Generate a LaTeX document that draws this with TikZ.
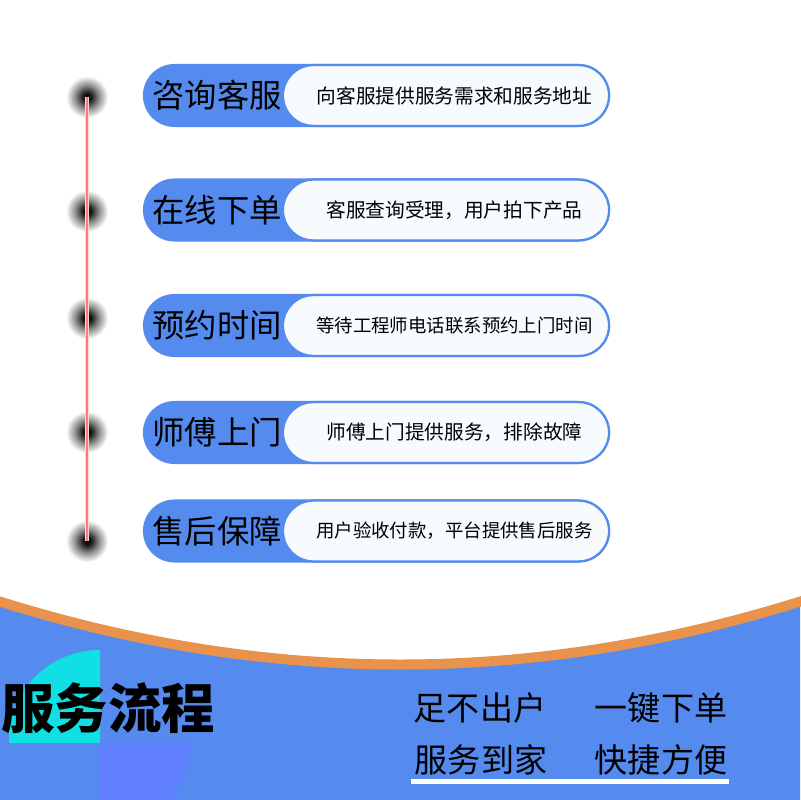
\documentclass[tikz,border=0pt]{standalone}
\usepackage{fontspec}
\setmainfont{Noto Sans CJK SC}
\definecolor{pillblue}{HTML}{558BEE}
\definecolor{pillwhite}{HTML}{F7FBFE}
\definecolor{arcorange}{HTML}{E8924C}
\definecolor{bandcyan}{HTML}{10E0E4}
\definecolor{bandviolet}{HTML}{6180FF}
\definecolor{linered}{HTML}{FF7878}
\pgfdeclareradialshading{fuzz}{\pgfpoint{0bp}{0bp}}{color(0bp)=(black); color(5bp)=(black!90); color(14bp)=(black!45); color(25bp)=(white); color(50bp)=(white)}
\tikzset{
  bluepill/.style={fill=pillblue,rounded corners=0.7875cm,minimum width=11.675cm,minimum height=1.575cm,inner sep=0pt},
  whitepill/.style={fill=pillwhite,draw=pillblue,line width=1.6pt,rounded corners=0.76cm,minimum width=8.15cm,minimum height=1.52cm,inner sep=0pt,font=\fontsize{14}{16}\selectfont},
  smalltext/.style={font=\fontsize{13.1}{15}\selectfont},
  steptitle/.style={font=\fontsize{23}{26}\selectfont,inner sep=0pt},
  slogan/.style={font=\fontsize{23.5}{26}\selectfont,inner sep=0pt},
  fuzzydot/.style={shading=fuzz}
}
\begin{document}
\begin{tikzpicture}[x=0.025cm,y=-0.025cm]
\useasboundingbox (0,0) rectangle (800,800);
\fill[white] (0,0) rectangle (800,800);

\node[bluepill] (p1) at (376.5,95.5) {};
\node[bluepill] (p2) at (376.5,210) {};
\node[bluepill] (p3) at (376.5,325.5) {};
\node[bluepill] (p4) at (376.5,432.5) {};
\node[bluepill] (p5) at (376.5,531) {};

\node[whitepill] (w1) at (446,95.5) {\hspace*{12pt}向客服提供服务需求和服务地址};
\node[whitepill] (w2) at (446,210) {\hspace*{12pt}客服查询受理，用户拍下产品};
\node[whitepill,smalltext] (w3) at (446,325.5) {\hspace*{12pt}等待工程师电话联系预约上门时间};
\node[whitepill] (w4) at (446,432.5) {\hspace*{12pt}师傅上门提供服务，排除故障};
\node[whitepill,smalltext] (w5) at (446,531) {\hspace*{12pt}用户验收付款，平台提供售后服务};

\node[steptitle] (t1) at (217,95.5) {咨询客服};
\node[steptitle] (t2) at (217,210) {在线下单};
\node[steptitle] (t3) at (217,325.5) {预约时间};
\node[steptitle] (t4) at (217,432.5) {师傅上门};
\node[steptitle] (t5) at (217,531) {售后保障};

\coordinate (d1) at (87,97);
\coordinate (d2) at (87,211);
\coordinate (d3) at (87,318);
\coordinate (d4) at (87,432);
\coordinate (d5) at (87,541);
\foreach \d in {d1,d2,d3,d4,d5}
  \shade[fuzzydot] (\d) circle (21);
\draw[linered!30,line width=3.5pt] (d1) -- (d5);
\draw[linered,line width=1.2pt] (d1) -- (d5);

\fill[pillblue] (0,602) .. controls (266.7,686) and (533.3,686) .. (800,602) -- (800,800) -- (0,800) -- cycle;
\draw[arcorange,line width=0.25cm] (-5,600) .. controls (266.7,686) and (533.3,686) .. (805,600);

\begin{scope}
  \clip (9,640) rectangle (100,742);
  \fill[bandcyan] (100,742) circle (92);
\end{scope}
\begin{scope}
  \clip (100,742) rectangle (300,800);
  \fill[bandviolet] (100,742) circle (91);
\end{scope}

\node[font=\fontsize{38}{42}\selectfont\bfseries,inner sep=0pt] (title) at (108,708) {服务流程};

\node[slogan] (s1) at (480,708) {足不出户};
\node[slogan] (s2) at (661,708) {一键下单};
\node[slogan] (s3) at (481,760) {服务到家};
\node[slogan] (s4) at (661,760) {快捷方便};
\coordinate (u1) at (411,781.5);
\coordinate (u2) at (729,781.5);
\draw[white,line width=0.125cm] (u1) -- (u2);
\end{tikzpicture}
\end{document}
